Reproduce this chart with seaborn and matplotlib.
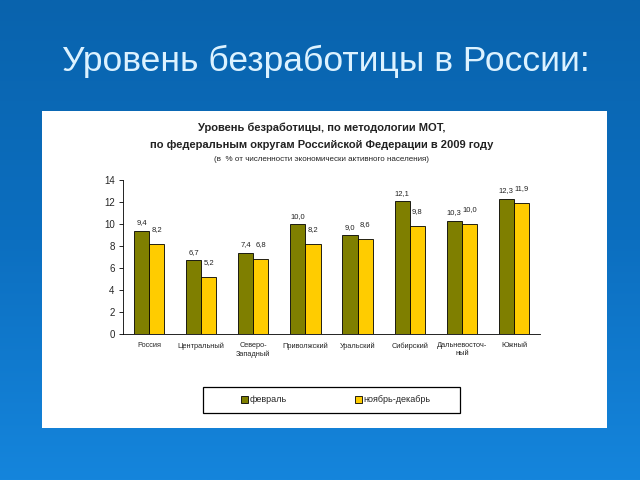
import numpy as np
import pandas as pd
import matplotlib
matplotlib.use("Agg")
import matplotlib.pyplot as plt
from matplotlib.patches import Rectangle
from matplotlib.colors import LinearSegmentedColormap
import seaborn as sns

districts = ["Россия", "Центральный", "Северо-\nЗападный", "Приволжский",
             "Уральский", "Сибирский", "Дальневосточ-\nный", "Южный"]
feb = [9.4, 6.7, 7.4, 10.0, 9.0, 12.1, 10.3, 12.3]
novdec = [8.2, 5.2, 6.8, 8.2, 8.6, 9.8, 10.0, 11.9]
series_names = ["февраль", "ноябрь-декабрь"]
yticks = [0, 2, 4, 6, 8, 10, 12, 14]

df = pd.DataFrame({
    "district": districts * 2,
    "value": feb + novdec,
    "period": [series_names[0]] * len(districts) + [series_names[1]] * len(districts),
})

sns.set_theme(style="white")
plt.rcParams["font.family"] = ["Liberation Sans", "DejaVu Sans"]

fig = plt.figure(figsize=(6.4, 4.8), dpi=100)

# background gradient
bg = fig.add_axes([0, 0, 1, 1], zorder=-10)
grad = np.linspace(0, 1, 256).reshape(-1, 1)
cmap = LinearSegmentedColormap.from_list("bg", ["#0963ad", "#0c6fc0", "#1585dc"])
bg.imshow(grad, aspect="auto", cmap=cmap, extent=[0, 1, 0, 1], origin="upper")
bg.set_xlim(0, 1); bg.set_ylim(0, 1)
bg.axis("off")

# white panel
fig.patches.append(Rectangle((42 / 640, 1 - 428 / 480), (607 - 42) / 640, (428 - 111) / 480,
                             transform=fig.transFigure, facecolor="white", edgecolor="none", zorder=-5))

fig.text(0.509, 0.872, "Уровень безработицы в России:", color="#dcf2ff", fontsize=25.5,
         ha="center", va="center", family=["Liberation Sans", "DejaVu Sans"])

fig.text(0.503, 1 - 128 / 480, "Уровень безработицы, по методологии МОТ,", fontsize=8,
         fontweight="bold", ha="center", va="center", color="#222222")
fig.text(0.503, 1 - 145 / 480, "по федеральным округам Российской Федерации в 2009 году", fontsize=8,
         fontweight="bold", ha="center", va="center", color="#222222")
fig.text(0.503, 1 - 160 / 480, "(в  % от численности экономически активного населения)", fontsize=5.8,
         ha="center", va="center", color="#222222")

ax = fig.add_axes([123 / 640, 1 - 334 / 480, (540 - 123) / 640, (334 - 180) / 480])
ax.set_facecolor("none")
sns.barplot(data=df, x="district", y="value", hue="period", ax=ax,
            palette=["#7f7f00", "#ffcc00"], width=0.58, edgecolor="black",
            linewidth=0.6, saturation=1, legend=True)

ax.set_ylim(0, 14)
ax.set_xlim(-0.5, len(districts) - 0.5)
ax.set_yticks(yticks)
ax.set_yticklabels([str(t) for t in yticks], fontsize=7)
ax.set_xlabel(""); ax.set_ylabel("")
ax.tick_params(axis="x", length=0, labelsize=5.3, pad=6)
ax.set_xticks(np.arange(-0.5, len(districts) + 0.5, 1), minor=True)
ax.tick_params(axis="x", which="minor", length=3, direction="out", width=0.6, color="black")
ax.tick_params(axis="y", length=3, direction="out", width=0.6, color="black", left=True, pad=3)
for side in ["top", "right"]:
    ax.spines[side].set_visible(False)
for side in ["left", "bottom"]:
    ax.spines[side].set_color("black")
    ax.spines[side].set_linewidth(0.6)

fmt = lambda v: f"{v:.1f}".replace(".", ",")
for cont, pad in zip(ax.containers, [3, 8]):
    ax.bar_label(cont, labels=[fmt(b.get_height()) for b in cont], fontsize=5.5,
                 padding=pad, color="#222222")

handles, labels = ax.get_legend_handles_labels()
ax.get_legend().remove()

# legend frame
fig.patches.append(Rectangle((203 / 640, 1 - 413 / 480), (460 - 203) / 640, (413 - 387) / 480,
                             transform=fig.transFigure, facecolor="white", edgecolor="black",
                             linewidth=0.9, zorder=2))
leg = fig.legend(handles, labels, loc="center", bbox_to_anchor=(336 / 640, 1 - 400 / 480),
                 ncol=2, fontsize=6.5, frameon=False, handlelength=0.7,
                 handleheight=0.7, handletextpad=0.2, columnspacing=7.6)
leg.set_zorder(3)

fig.savefig("out.png", dpi=100)
